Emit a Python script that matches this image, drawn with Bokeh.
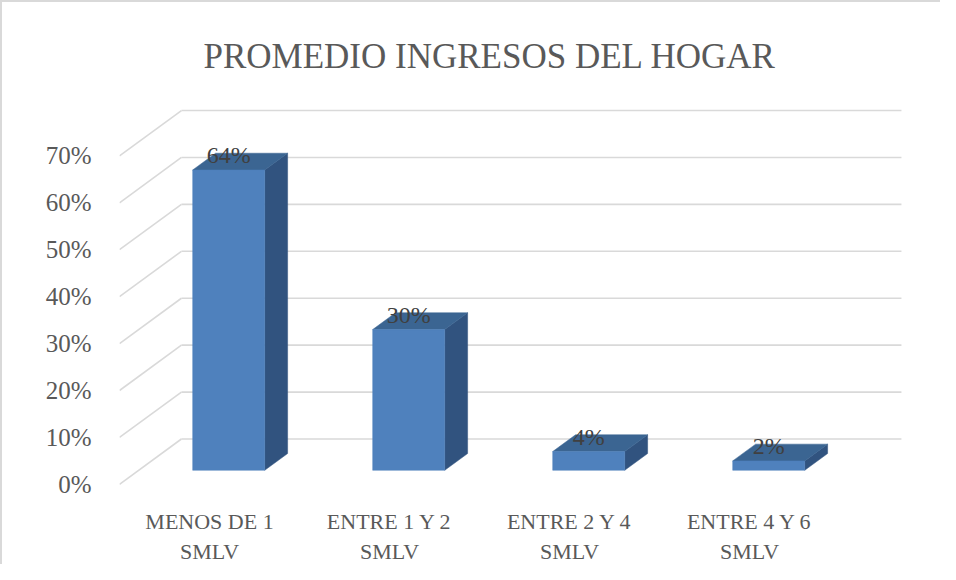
from bokeh.plotting import figure
from bokeh.models import ColumnDataSource, Range1d, FixedTicker
from bokeh.embed import file_html
from bokeh.resources import INLINE
from bokeh.core.properties import value

# ---------------- data ----------------
categories = ["MENOS DE 1\nSMLV", "ENTRE 1 Y 2\nSMLV", "ENTRE 2 Y 4\nSMLV", "ENTRE 4 Y 6\nSMLV"]
percent = [64, 30, 4, 2]
data_labels = ["64%", "30%", "4%", "2%"]
y_ticks = [0, 10, 20, 30, 40, 50, 60, 70]
y_tick_labels = ["0%", "10%", "20%", "30%", "40%", "50%", "60%", "70%"]
title_text = "PROMEDIO INGRESOS DEL HOGAR"

# ---------------- 3-D projection / style constants ----------------
DEPTH_X = 0.344      # horizontal shift of the back wall (category units)
DEPTH_Y = 9.66       # vertical shift of the back wall (percent units)
BAR_FRONT = 0.31     # depth fraction of bar front face
BAR_BACK = 0.68      # depth fraction of bar back face
BAR_HALF = 0.2       # half bar width (category units)

FRONT = "#4F81BD"
TOP = "#3B6592"
SIDE = "#31537F"
GRID = "#D9D9D9"
TXT = "#595959"
FONT = "Liberation Serif"

n = len(categories)
centers = [i + 0.5 for i in range(n)]

# gridlines: back wall + left wall
back_xs = [[DEPTH_X, n + DEPTH_X] for t in y_ticks]
back_ys = [[t + DEPTH_Y, t + DEPTH_Y] for t in y_ticks]
left_xs = [[0, DEPTH_X] for t in y_ticks]
left_ys = [[t, t + DEPTH_Y] for t in y_ticks]

fx1, fy1 = BAR_FRONT * DEPTH_X, BAR_FRONT * DEPTH_Y
fx2, fy2 = BAR_BACK * DEPTH_X, BAR_BACK * DEPTH_Y

front_xs, front_ys, top_xs, top_ys, side_xs, side_ys = [], [], [], [], [], []
lab_x, lab_y = [], []
for c, v in zip(centers, percent):
    l, r = c - BAR_HALF, c + BAR_HALF
    front_xs.append([l + fx1, r + fx1, r + fx1, l + fx1])
    front_ys.append([fy1, fy1, v + fy1, v + fy1])
    top_xs.append([l + fx1, r + fx1, r + fx2, l + fx2])
    top_ys.append([v + fy1, v + fy1, v + fy2, v + fy2])
    side_xs.append([r + fx1, r + fx2, r + fx2, r + fx1])
    side_ys.append([fy1, fy2, v + fy2, v + fy1])
    lab_x.append(c + fx1)
    lab_y.append(v + fy2)

x_end = n + DEPTH_X + 0.117
y_end = 83.08
y_start = -0.886

p = figure(width=940, height=564,
           x_range=Range1d(0, x_end), y_range=Range1d(y_start, y_end),
           output_backend="svg", toolbar_location=None,
           min_border_left=117, min_border_right=20,
           min_border_top=92, min_border_bottom=74,
           outline_line_color=None,
           styles={"border-left": "2px solid #D9D9D9", "border-top": "2px solid #D9D9D9"})

p.xgrid.visible = False
p.ygrid.visible = False

p.title.text = title_text
p.title.align = "left"
p.title.offset = 84
p.title.standoff = 38
p.title.text_font = FONT
p.title.text_font_size = "35px"
p.title.text_font_style = "normal"
p.title.text_color = TXT

# axes
p.yaxis.ticker = FixedTicker(ticks=y_ticks)
p.yaxis.major_label_overrides = {t: s for t, s in zip(y_ticks, y_tick_labels)}
p.yaxis.major_label_standoff = 22
p.xaxis.ticker = FixedTicker(ticks=centers)
p.xaxis.major_label_overrides = {c: s for c, s in zip(centers, categories)}
p.xaxis.major_label_standoff = 14
for ax in (p.xaxis, p.yaxis):
    ax.axis_line_color = None
    ax.major_tick_line_color = None
    ax.minor_tick_line_color = None
    ax.major_label_text_font = FONT
    ax.major_label_text_color = TXT
p.yaxis.major_label_text_font_size = "25px"
p.xaxis.major_label_text_font_size = "22px"

# walls
p.multi_line(back_xs, back_ys, line_color=GRID, line_width=1.6)
p.multi_line(left_xs, left_ys, line_color=GRID, line_width=1.6)

# bars
p.patches(side_xs, side_ys, fill_color=SIDE, line_color=SIDE, line_width=0.5)
p.patches(top_xs, top_ys, fill_color=TOP, line_color=TOP, line_width=0.5)
p.patches(front_xs, front_ys, fill_color=FRONT, line_color=FRONT, line_width=0.5)

src = ColumnDataSource(dict(x=lab_x, y=lab_y, t=data_labels))
p.text(x="x", y="y", text="t", source=src, text_align="center",
       text_baseline="alphabetic", y_offset=2,
       text_font=value(FONT), text_font_size="24px", text_color="#404040")

open("out.html", "w").write(file_html(p, INLINE))
